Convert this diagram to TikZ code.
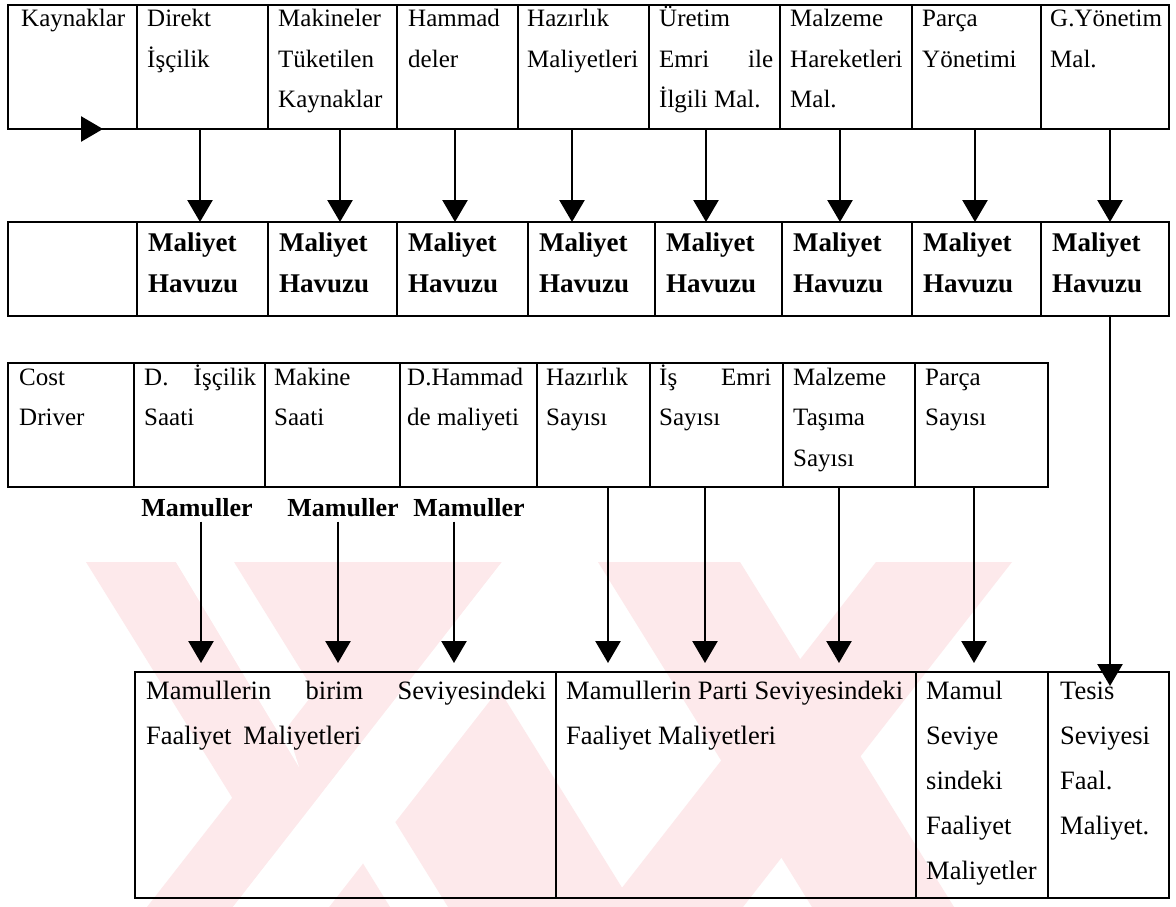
\documentclass[tikz,border=0pt]{standalone}
\usepackage{fontspec}
\setmainfont{Liberation Serif}
\usetikzlibrary{arrows.meta,calc}

\definecolor{wmpink}{RGB}{253,233,235}

% type sizes of the three kinds of cell text
\newcommand{\tabfont}{\fontsize{25pt}{40.5pt}\selectfont}
\newcommand{\poolfont}{\fontsize{27pt}{41pt}\selectfont\bfseries}
\newcommand{\levelfont}{\fontsize{26.5pt}{45pt}\selectfont}
\newcommand{\celltext}[2]{\parbox[t]{#1}{\raggedright #2}}

\tikzset{
  cell/.style={draw, line width=1.8pt, anchor=north west, inner sep=0pt, outer sep=0pt},
  rowA/.style={cell, minimum height=124pt},
  rowB/.style={cell, minimum height=94pt},
  rowC/.style={cell, minimum height=124pt},
  rowD/.style={cell, minimum height=226pt},
  txt/.style={anchor=base west, inner sep=0pt, font=\tabfont},
  pooltxt/.style={anchor=base west, inner sep=0pt, font=\poolfont},
  leveltxt/.style={anchor=base west, inner sep=0pt, font=\levelfont},
  mam/.style={anchor=base, inner sep=0pt, font=\fontsize{26pt}{30pt}\selectfont\bfseries},
  arr/.style={line width=2.6pt, -{Triangle[length=22pt,width=25pt]}}
}

\begin{document}
\begin{tikzpicture}[x=1pt,y=-1pt]
\useasboundingbox (0,0) rectangle (1176,907);
\fill[white] (0,0) rectangle (1176,907);

% faint background emblem: crossing diagonal bands
\fill[wmpink] (86,562) -- (176,562) -- (390,907) -- (300,907) -- cycle;
\fill[wmpink] (234,562) -- (420,562) -- (634,907) -- (448,907) -- cycle;
\fill[wmpink] (598,562) -- (740,562) -- (954,907) -- (812,907) -- cycle;
\fill[wmpink] (416,562) -- (502,562) -- (233,907) -- (147,907) -- cycle;
\fill[wmpink] (876,562) -- (1012,562) -- (743,907) -- (607,907) -- cycle;
\fill[white] (502,562) -- (598,562) -- (329,907) -- (233,907) -- cycle;
\fill[white] (176,562) -- (234,562) -- (299,767) -- cycle;

% ---------- resources row ----------
\node[rowA, minimum width=129pt] (r1c1) at (8,5) {};
\node[rowA, minimum width=131pt] (r1c2) at (137,5) {};
\node[rowA, minimum width=129pt] (r1c3) at (268,5) {};
\node[rowA, minimum width=121pt] (r1c4) at (397,5) {};
\node[rowA, minimum width=131pt] (r1c5) at (518,5) {};
\node[rowA, minimum width=131pt] (r1c6) at (649,5) {};
\node[rowA, minimum width=132pt] (r1c7) at (780,5) {};
\node[rowA, minimum width=129pt] (r1c8) at (912,5) {};
\node[rowA, minimum width=128pt] (r1c9) at (1041,5) {};

\node[txt] (t1a) at ([xshift=13pt,yshift=-22pt]r1c1.north west) {\celltext{150pt}{Kaynaklar}};
\node[txt] (t1b) at ([xshift=10pt,yshift=-22pt]r1c2.north west) {\celltext{150pt}{Direkt\\İşçilik}};
\node[txt] (t1c) at ([xshift=10pt,yshift=-22pt]r1c3.north west) {\celltext{150pt}{Makineler\\Tüketilen\\Kaynaklar}};
\node[txt] (t1d) at ([xshift=11pt,yshift=-22pt]r1c4.north west) {\celltext{150pt}{Hammad\\deler}};
\node[txt] (t1e) at ([xshift=9pt,yshift=-22pt]r1c5.north west) {\celltext{150pt}{Hazırlık\\Maliyetleri}};
\node[txt] (t1f) at ([xshift=10pt,yshift=-22pt]r1c6.north west) {\celltext{114pt}{Üretim\\Emri\hfill ile\\İlgili Mal.}};
\node[txt] (t1g) at ([xshift=10pt,yshift=-22pt]r1c7.north west) {\celltext{150pt}{Malzeme\\Hareketleri\\Mal.}};
\node[txt] (t1h) at ([xshift=10pt,yshift=-22pt]r1c8.north west) {\celltext{150pt}{Parça\\Yönetimi}};
\node[txt] (t1i) at ([xshift=9pt,yshift=-22pt]r1c9.north west) {\celltext{150pt}{G.Yönetim\\Mal.}};

% ---------- cost pool row ----------
\node[rowB, minimum width=129pt] (r2c1) at (8,222) {};
\node[rowB, minimum width=131pt] (r2c2) at (137,222) {};
\node[rowB, minimum width=129pt] (r2c3) at (268,222) {};
\node[rowB, minimum width=131pt] (r2c4) at (397,222) {};
\node[rowB, minimum width=127pt] (r2c5) at (528,222) {};
\node[rowB, minimum width=127pt] (r2c6) at (655,222) {};
\node[rowB, minimum width=130pt] (r2c7) at (782,222) {};
\node[rowB, minimum width=129pt] (r2c8) at (912,222) {};
\node[rowB, minimum width=128pt] (r2c9) at (1041,222) {};

\foreach \c/\n in {2/b,3/c,4/d,5/e,6/f,7/g,8/h,9/i}
  \node[pooltxt] (t2\n) at ([xshift=11pt,yshift=-29pt]r2c\c.north west) {\celltext{150pt}{Maliyet\\Havuzu}};

% ---------- cost driver row ----------
\node[rowC, minimum width=126pt] (r3c1) at (8,363) {};
\node[rowC, minimum width=131pt] (r3c2) at (134,363) {};
\node[rowC, minimum width=135pt] (r3c3) at (265,363) {};
\node[rowC, minimum width=137pt] (r3c4) at (400,363) {};
\node[rowC, minimum width=113pt] (r3c5) at (537,363) {};
\node[rowC, minimum width=133pt] (r3c6) at (650,363) {};
\node[rowC, minimum width=132pt] (r3c7) at (783,363) {};
\node[rowC, minimum width=133pt] (r3c8) at (915,363) {};

\node[txt] (t3a) at ([xshift=11pt,yshift=-22pt]r3c1.north west) {\celltext{150pt}{Cost\\Driver}};
\node[txt] (t3b) at ([xshift=10pt,yshift=-22pt]r3c2.north west) {\celltext{112pt}{D.\hfill İşçilik\\Saati}};
\node[txt] (t3c) at ([xshift=9pt,yshift=-22pt]r3c3.north west) {\celltext{150pt}{Makine\\Saati}};
\node[txt] (t3d) at ([xshift=7pt,yshift=-22pt]r3c4.north west) {\celltext{150pt}{D.Hammad\\de maliyeti}};
\node[txt] (t3e) at ([xshift=9pt,yshift=-22pt]r3c5.north west) {\celltext{150pt}{Hazırlık\\Sayısı}};
\node[txt] (t3f) at ([xshift=9pt,yshift=-22pt]r3c6.north west) {\celltext{112pt}{İş\hfill Emri\\Sayısı}};
\node[txt] (t3g) at ([xshift=10pt,yshift=-22pt]r3c7.north west) {\celltext{150pt}{Malzeme\\Taşıma\\Sayısı}};
\node[txt] (t3h) at ([xshift=10pt,yshift=-22pt]r3c8.north west) {\celltext{150pt}{Parça\\Sayısı}};

% product labels under the unit-level drivers
\node[mam] (m1) at (197,516) {Mamuller};
\node[mam] (m2) at (343,516) {Mamuller};
\node[mam] (m3) at (469,516) {Mamuller};

% ---------- activity level row ----------
\node[rowD, minimum width=421pt] (b1) at (135,672) {};
\node[rowD, minimum width=360pt] (b2) at (556,672) {};
\node[rowD, minimum width=132pt] (b3) at (916,672) {};
\node[rowD, minimum width=121pt] (b4) at (1048,672) {};

\node[leveltxt] (t4a) at ([xshift=11pt,yshift=-27pt]b1.north west) {\celltext{400pt}{Mamullerin\hfill birim\hfill Seviyesindeki\\Faaliyet\hspace{0.45em}Maliyetleri}};
\node[leveltxt] (t4b) at ([xshift=10pt,yshift=-27pt]b2.north west) {\celltext{380pt}{Mamullerin Parti Seviyesindeki\\Faaliyet Maliyetleri}};
\node[leveltxt] (t4c) at ([xshift=10pt,yshift=-27pt]b3.north west) {\celltext{200pt}{Mamul\\Seviye\\sindeki\\Faaliyet\\Maliyetler}};
\node[leveltxt] (t4d) at ([xshift=12pt,yshift=-27pt]b4.north west) {\celltext{200pt}{Tesis\\Seviyesi\\Faal.\\Maliyet.}};

% ---------- connectors ----------
\coordinate (kin) at ([xshift=95pt]r1c1.south west);
\draw[arr] (r1c1.south west) -- (kin);

\foreach \c/\d in {2/-2.5,3/7.5,4/-2.5,5/-11.5,6/-8.5,7/-6,8/-1.5,9/5}
  \draw[arr] ([xshift=\d pt]r1c\c.south) -- ([xshift=\d pt]r1c\c.south |- r2c\c.north);

\coordinate (tesisin) at ($([xshift=5pt]r2c9.south |- b4.north)+(0,14)$);
\draw[arr] ([xshift=5pt]r2c9.south) -- (tesisin);

\foreach \c/\d/\b in {5/14.5/b2,6/-11.5/b2,7/-10/b2,8/-7.5/b3}
  \draw[arr] ([xshift=\d pt]r3c\c.south) -- ($([xshift=\d pt]r3c\c.south |- \b.north)+(0,-9)$);

\foreach \m/\d in {m1/4,m2/-5,m3/-15}
  \draw[arr] ([xshift=\d pt,yshift=-5pt]\m.south) -- ($([xshift=\d pt]\m.south |- b1.north)+(0,-9)$);
\end{tikzpicture}
\end{document}
